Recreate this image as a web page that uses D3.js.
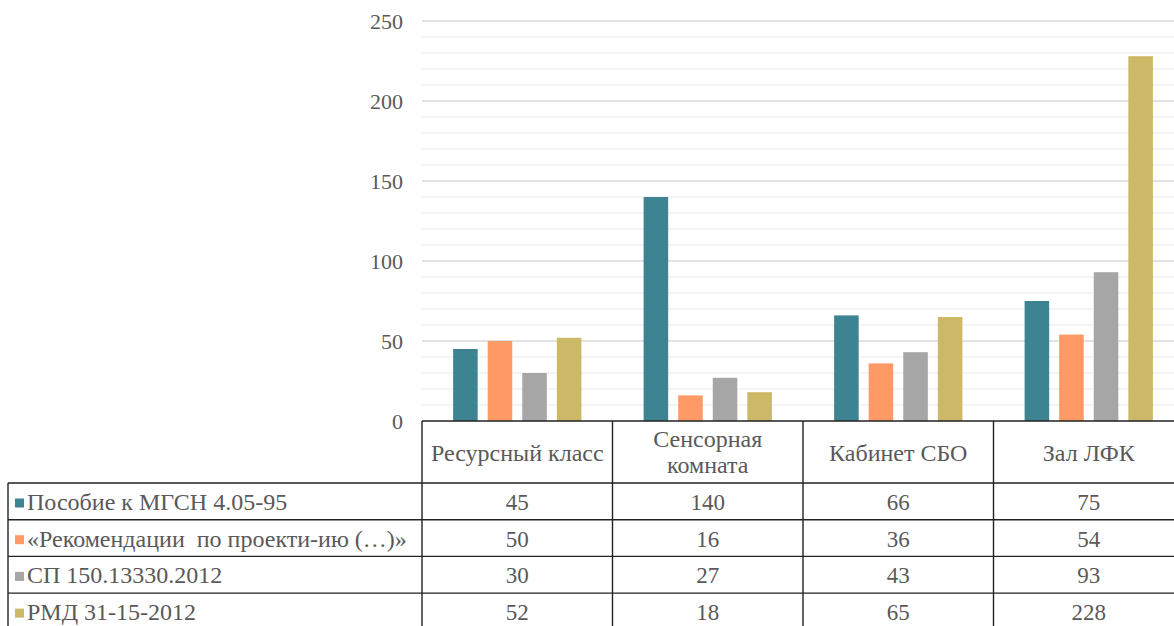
<!DOCTYPE html>
<html>
<head>
<meta charset="utf-8">
<script src="https://cdn.jsdelivr.net/npm/d3@7"></script>
</head>
<body style="margin:0;background:#fff">
<svg id="chart" width="1174" height="626" font-family="Liberation Serif"></svg>
<script>
// categories and series
var categories = ["Ресурсный класс", "Сенсорная комната", "Кабинет СБО", "Зал ЛФК"];
var seriesNames = ["Пособие к МГСН 4.05-95", "«Рекомендации  по проекти-ию (…)»", "СП 150.13330.2012", "РМД 31-15-2012"];
var posobie = [45, 140, 66, 75];
var rekomend = [50, 16, 36, 54];
var sp = [30, 27, 43, 93];
var rmd = [52, 18, 65, 228];
var yTicks = [0, 50, 100, 150, 200, 250];

var series = [posobie, rekomend, sp, rmd];
var colors = ["#3e8391", "#ff9966", "#a6a6a6", "#cbb967"];

var svg = d3.select("#chart");
var plotLeft = 422, plotRight = 1184, plotTop = 21, base = 421;
var rowH = 36.7, headH = 62, tableLeft = 8;

function label(sel, size) {
  return sel.attr("font-family", "Liberation Serif").attr("font-size", size || 24)
    .attr("fill", "#595959").attr("xml:space", "preserve");
}

var x0 = d3.scaleBand().domain(categories).range([plotLeft, plotRight]).padding(0);
var x1 = d3.scaleBand().domain(d3.range(series.length)).range([0, x0.bandwidth()])
  .paddingInner(0.29).paddingOuter(0.9);
var y = d3.scaleLinear().domain([0, 250]).range([base, plotTop]);

// minor gridlines
svg.append("g").selectAll("line")
  .data(d3.range(10, 250, 10).filter(function (d) { return d % 50 !== 0; }))
  .enter().append("line")
  .attr("x1", plotLeft).attr("x2", 1174)
  .attr("y1", function (d) { return y(d); }).attr("y2", function (d) { return y(d); })
  .attr("stroke", "#f0f0f0").attr("stroke-width", 1.3);

// major gridlines
svg.append("g").selectAll("line")
  .data(yTicks.slice(1))
  .enter().append("line")
  .attr("x1", plotLeft).attr("x2", 1174)
  .attr("y1", function (d) { return y(d); }).attr("y2", function (d) { return y(d); })
  .attr("stroke", "#d9d9d9").attr("stroke-width", 1.3);

// y axis labels
var yAxis = d3.axisLeft(y).tickValues(yTicks).tickSize(0).tickPadding(19);
var ya = svg.append("g").attr("transform", "translate(" + plotLeft + ",0)").call(yAxis);
ya.attr("font-family", "Liberation Serif").attr("font-size", 22);
ya.select(".domain").remove();
label(ya.selectAll("text"), 22);

// bars
var groups = svg.append("g").selectAll("g")
  .data(categories).enter().append("g")
  .attr("transform", function (d) { return "translate(" + x0(d) + ",0)"; });

groups.selectAll("rect")
  .data(function (d, ci) { return series.map(function (s, si) { return { si: si, v: s[ci] }; }); })
  .enter().append("rect")
  .attr("x", function (d) { return x1(d.si); })
  .attr("width", x1.bandwidth())
  .attr("y", function (d) { return y(d.v); })
  .attr("height", function (d) { return base - y(d.v); })
  .attr("fill", function (d) { return colors[d.si]; });

// data table
var tbl = svg.append("g").attr("stroke", "#222").attr("stroke-width", 1.4);
var rowsTop = base + headH;
var tableBottom = rowsTop + rowH * series.length;

// header top line (axis)
tbl.append("line").attr("x1", plotLeft).attr("x2", 1174).attr("y1", base).attr("y2", base);
// row lines
d3.range(series.length).forEach(function (i) {
  var yy = rowsTop + rowH * i;
  tbl.append("line").attr("x1", tableLeft).attr("x2", 1174).attr("y1", yy).attr("y2", yy);
});
// vertical lines
tbl.append("line").attr("x1", tableLeft).attr("x2", tableLeft).attr("y1", rowsTop).attr("y2", tableBottom);
categories.forEach(function (c) {
  tbl.append("line").attr("x1", x0(c)).attr("x2", x0(c)).attr("y1", base).attr("y2", tableBottom);
});

// header labels
categories.forEach(function (c) {
  var words = c === "Сенсорная комната" ? ["Сенсорная", "комната"] : [c];
  var cx = x0(c) + x0.bandwidth() / 2;
  var t = label(svg.append("text").attr("x", cx).attr("text-anchor", "middle"));
  if (words.length === 1) {
    t.append("tspan").attr("x", cx).attr("y", base + 40).text(words[0]);
  } else {
    t.append("tspan").attr("x", cx).attr("y", base + 26).text(words[0]);
    t.append("tspan").attr("x", cx).attr("y", base + 52).text(words[1]);
  }
});

// series rows
series.forEach(function (s, si) {
  var rt = rowsTop + rowH * si;
  svg.append("rect").attr("x", 15).attr("y", rt + 15.5).attr("width", 9).attr("height", 9)
    .attr("fill", colors[si]);
  label(svg.append("text").attr("x", 27).attr("y", rt + 27)).text(seriesNames[si]);
  s.forEach(function (v, ci) {
    label(svg.append("text").attr("x", x0(categories[ci]) + x0.bandwidth() / 2).attr("y", rt + 27)
      .attr("text-anchor", "middle"), 23).text(v);
  });
});
</script>
</body>
</html>
